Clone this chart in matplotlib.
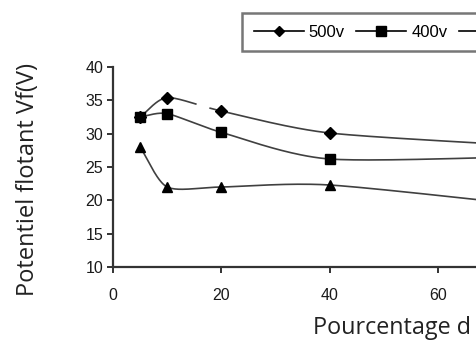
import numpy as np
import matplotlib
matplotlib.use('Agg')
import matplotlib.pyplot as plt
from matplotlib.lines import Line2D

# data (x = pourcentage, y = Vf in volts)
pct = [5, 10, 20, 40, 80]
v500 = [32.5, 35.4, 33.4, 30.1, 28.0]
v400 = [32.5, 33.0, 30.2, 26.2, 26.6]
v300 = [28.0, 22.0, 22.0, 22.3, 19.0]
series_names = ['500v', '400v', '300v']
markers = ['D', 's', '^']


def smooth(xs, ys, n=40, k=0.75):
    """Cardinal spline through the points, a bit like excel smoothing."""
    xs = np.asarray(xs, float)
    ys = np.asarray(ys, float)
    px = np.concatenate([[2 * xs[0] - xs[1]], xs, [2 * xs[-1] - xs[-2]]])
    py = np.concatenate([[2 * ys[0] - ys[1]], ys, [2 * ys[-1] - ys[-2]]])
    ox, oy = [], []
    t = np.linspace(0, 1, n)
    h00 = 2 * t ** 3 - 3 * t ** 2 + 1
    h10 = t ** 3 - 2 * t ** 2 + t
    h01 = -2 * t ** 3 + 3 * t ** 2
    h11 = t ** 3 - t ** 2
    for i in range(1, len(px) - 2):
        for p, out in ((px, ox), (py, oy)):
            m1 = k * 0.5 * (p[i + 1] - p[i - 1])
            m2 = k * 0.5 * (p[i + 2] - p[i])
            out.extend(h00 * p[i] + h10 * m1 + h01 * p[i + 1] + h11 * m2)
    return np.array(ox), np.array(oy)


fig = plt.figure(figsize=(4.77, 3.45), dpi=100)
ax = fig.add_axes([113 / 477, 78 / 345, 364 / 477, 200 / 345])

lc = '#404040'
sizes = {'D': 6, 's': 7, '^': 7}
for i, ys in enumerate([v500, v400, v300]):
    sx, sy = smooth(pct, ys)
    if i == 0:
        # small break in the 500v curve in the original
        sy = np.where((sx > 15.3) & (sx < 17.7), np.nan, sy)
    ax.plot(sx, sy, color=lc, lw=1.2, zorder=2)
    ax.plot(pct, ys, ls='none', marker=markers[i], color='black',
            ms=sizes[markers[i]], zorder=3)

ax.set_xlim(0, 67.2)
ax.set_ylim(10, 40)
ax.set_xticks([0, 20, 40, 60])
ax.set_yticks([10, 15, 20, 25, 30, 35, 40])
for s in ['top', 'right']:
    ax.spines[s].set_visible(False)
for s in ['left', 'bottom']:
    ax.spines[s].set_color('#333333')
    ax.spines[s].set_linewidth(1.6)
ax.tick_params(direction='out', length=4, width=1.4, color='#333333',
               labelsize=11.5)
ax.tick_params(axis='x', pad=11)
ax.tick_params(axis='y', pad=3)
for lab in ax.get_xticklabels() + ax.get_yticklabels():
    lab.set_family('Liberation Sans')
    lab.set_color('#1a1a1a')

fig.text(28 / 477, 1 - 180 / 345, 'Potentiel flotant Vf(V)',
         family='Open Sans', fontsize=17, color='#222222',
         rotation=90, ha='center', va='center')
fig.text(313 / 477, 1 - 334 / 345, 'Pourcentage d', family='Open Sans',
         fontsize=16.8, color='#222222', ha='left', va='baseline')

handles = [Line2D([], [], color='black', lw=1.2, marker=m,
                  ms=sizes[m] - 0.5)
           for m in markers]
leg = fig.legend(handles, series_names, ncol=3, loc='upper left',
                 bbox_to_anchor=(242 / 477, 1 - 13 / 345),
                 prop={'family': 'Liberation Sans', 'size': 12},
                 frameon=True, fancybox=False, handlelength=3.0,
                 handletextpad=0.3, columnspacing=0.7, borderpad=0.7,
                 borderaxespad=0)
leg.get_frame().set_edgecolor('#555555')
leg.get_frame().set_linewidth(1.8)

fig.savefig('out.png', dpi=100)
